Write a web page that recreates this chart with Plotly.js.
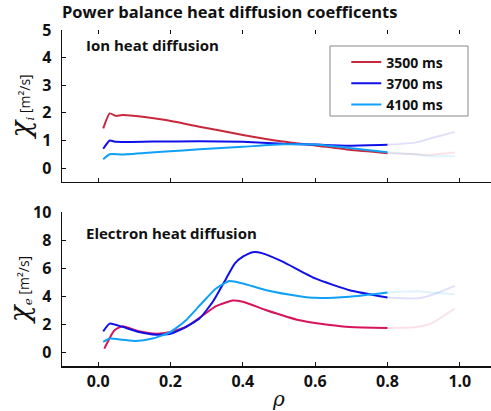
<!DOCTYPE html>
<html>
<head>
<meta charset="utf-8">
<script src="https://cdn.plot.ly/plotly-3.0.1.min.js"></script>
<style>
html,body{margin:0;padding:0;overflow:hidden;background:#fff;}
#chart{width:496px;height:411px;}
</style>
</head>
<body>
<div id="chart"></div>
<script>
// ---- data ----
const seriesNames = ["3500 ms", "3700 ms", "4100 ms"];

// Ion heat diffusion, solid part (rho <= 0.8)
const ionRho3500 = [0.014, 0.032, 0.049, 0.067, 0.123, 0.187, 0.28, 0.40, 0.51, 0.60, 0.695, 0.80];
const ionChi3500 = [1.44, 1.98, 1.89, 1.92, 1.86, 1.74, 1.50, 1.20, 0.96, 0.82, 0.66, 0.54];
const ionRho3700 = [0.014, 0.032, 0.049, 0.15, 0.28, 0.40, 0.51, 0.60, 0.70, 0.80];
const ionChi3700 = [0.70, 1.00, 0.95, 0.96, 0.97, 0.95, 0.88, 0.85, 0.81, 0.84];
const ionRho4100 = [0.014, 0.032, 0.067, 0.187, 0.28, 0.40, 0.51, 0.60, 0.70, 0.80];
const ionChi4100 = [0.32, 0.50, 0.49, 0.60, 0.68, 0.77, 0.86, 0.85, 0.72, 0.57];
// Ion, faded part (rho > 0.8)
const ionRhoFade = [0.80, 0.88, 0.92, 0.986];
const ionChiFade3500 = [0.54, 0.50, 0.48, 0.56];
const ionChiFade3700 = [0.84, 0.93, 1.08, 1.31];
const ionChiFade4100 = [0.57, 0.49, 0.43, 0.43];

// Electron heat diffusion, solid part
const eleRho3500 = [0.017, 0.045, 0.067, 0.113, 0.16, 0.20, 0.243, 0.29, 0.326, 0.372, 0.40, 0.465, 0.557, 0.60, 0.695, 0.80];
const eleChi3500 = [0.24, 1.55, 1.84, 1.48, 1.31, 1.43, 1.79, 2.63, 3.28, 3.68, 3.59, 2.99, 2.27, 2.08, 1.79, 1.72];
const eleRho3700 = [0.014, 0.032, 0.067, 0.113, 0.16, 0.20, 0.234, 0.28, 0.317, 0.354, 0.378, 0.40, 0.427, 0.455, 0.51, 0.60, 0.695, 0.80];
const eleChi3700 = [1.48, 2.03, 1.80, 1.43, 1.24, 1.31, 1.67, 2.39, 3.59, 5.26, 6.34, 6.82, 7.13, 7.05, 6.46, 5.26, 4.42, 3.90];
const eleRho4100 = [0.014, 0.032, 0.067, 0.104, 0.15, 0.20, 0.243, 0.29, 0.326, 0.363, 0.40, 0.465, 0.557, 0.60, 0.695, 0.80];
const eleChi4100 = [0.72, 0.96, 0.88, 0.79, 0.96, 1.43, 2.27, 3.59, 4.54, 5.07, 4.90, 4.42, 3.99, 3.87, 3.95, 4.25];
// Electron, faded part
const eleRhoFade = [0.80, 0.88, 0.92, 0.986];
const eleChiFade3500 = [1.72, 1.79, 2.03, 3.11];
const eleChiFade3700 = [3.90, 3.83, 4.06, 4.73];
const eleChiFade4100 = [4.25, 4.35, 4.25, 4.13];

const xTickVals = [0, 0.2, 0.4, 0.6, 0.8, 1.0];
const ionTickVals = [0, 1, 2, 3, 4, 5];
const eleTickVals = [0, 2, 4, 6, 8, 10];

// ---- styling ----
const colIon = ["#c8283c", "#1010e8", "#10a0f8"];
const colEle = ["#d6145a", "#1010e8", "#10a0f8"];
const lw = 2;
const fadeOp = 0.13;
const shp = {shape: "spline", smoothing: 0.5};

function tr(x, y, color, xa, ya, name, legend, op) {
  return {
    x: x, y: y, type: "scatter", mode: "lines", xaxis: xa, yaxis: ya,
    name: name, showlegend: legend, opacity: op === undefined ? 1 : op,
    line: Object.assign({color: color, width: lw}, shp), hoverinfo: "skip"
  };
}

const data = [
  tr(ionRhoFade, ionChiFade3500, colIon[0], "x2", "y", "", false, fadeOp),
  tr(ionRhoFade, ionChiFade3700, colIon[1], "x2", "y", "", false, fadeOp),
  tr(ionRhoFade, ionChiFade4100, colIon[2], "x2", "y", "", false, fadeOp),
  tr(eleRhoFade, eleChiFade3500, colEle[0], "x", "y2", "", false, fadeOp),
  tr(eleRhoFade, eleChiFade3700, colEle[1], "x", "y2", "", false, fadeOp),
  tr(eleRhoFade, eleChiFade4100, colEle[2], "x", "y2", "", false, fadeOp),
  tr(ionRho3500, ionChi3500, colIon[0], "x2", "y", seriesNames[0], true),
  tr(ionRho3700, ionChi3700, colIon[1], "x2", "y", seriesNames[1], true),
  tr(ionRho4100, ionChi4100, colIon[2], "x2", "y", seriesNames[2], true),
  tr(eleRho3500, eleChi3500, colEle[0], "x", "y2", "", false),
  tr(eleRho3700, eleChi3700, colEle[1], "x", "y2", "", false),
  tr(eleRho4100, eleChi4100, colEle[2], "x", "y2", "", false),
  {x: [], y: [], type: "scatter", mode: "lines", xaxis: "x3", yaxis: "y", showlegend: false, hoverinfo: "skip"}
];

const FONT = "Open Sans, Noto Sans, sans-serif";
const tickFont = {family: FONT, size: 16, color: "#111", weight: "bold"};

const xRange = [-0.1, 1.1];
const baseX = {
  range: xRange, tickvals: xTickVals, showline: true, linecolor: "#111", linewidth: 1.5,
  ticks: "inside", ticklen: 4, tickwidth: 1, tickcolor: "#111", showgrid: false, zeroline: false,
  tickfont: tickFont, fixedrange: true
};
const baseY = {
  showline: true, linecolor: "#111", linewidth: 1.5, ticks: "inside", ticklen: 4, tickwidth: 1,
  tickcolor: "#111", showgrid: false, zeroline: false, tickfont: tickFont, ticklabelstandoff: 6,
  fixedrange: true
};

const yTitleStart = "<span style='font-family:DejaVu Serif;font-size:28px;font-style:italic'>χ</span>";

const layout = {
  width: 496, height: 411,
  margin: {l: 62, r: 0, t: 30, b: 45, pad: 0},
  paper_bgcolor: "#fff", plot_bgcolor: "#fff",
  font: {family: FONT, color: "#111"},
  title: {
    text: "Power balance heat diffusion coefficents",
    font: {family: FONT, size: 16.5, weight: "bold", color: "#111"},
    x: 0, xanchor: "left", xref: "paper", y: 1 - 12/411, yanchor: "middle", yref: "container"
  },
  showlegend: true,
  legend: {
    x: 0.655, xanchor: "left", y: 0.951, yanchor: "top",
    borderwidth: 0, bgcolor: "rgba(0,0,0,0)",
    font: {family: FONT, size: 14, weight: "bold", color: "#111"},
    itemwidth: 30, tracegroupgap: 0
  },
  // legend frame (wider than Plotly's auto-sized legend box)
  shapes: [
    {type: "rect", xref: "paper", yref: "paper", x0: 0.6175, x1: 0.9355, y0: 0.744, y1: 0.9524,
     line: {color: "#888", width: 1}, fillcolor: "rgba(0,0,0,0)", layer: "above"}
  ],
  xaxis: Object.assign({}, baseX, {
    anchor: "y2", tickformat: ".1f",
    title: {text: "<i>ρ</i>", font: {family: "DejaVu Serif, serif", size: 20, color: "#111"}, standoff: 4}
  }),
  xaxis2: Object.assign({}, baseX, {anchor: "y", matches: "x", showticklabels: false}),
  xaxis3: {
    overlaying: "x2", side: "top", anchor: "y", range: xRange, tickvals: xTickVals,
    showline: false, ticks: "inside", ticklen: 4, tickwidth: 1, tickcolor: "#111",
    showticklabels: false, showgrid: false, zeroline: false, fixedrange: true
  },
  yaxis: Object.assign({}, baseY, {
    domain: [0.548, 1], anchor: "x2", range: [-0.5, 5], tickvals: ionTickVals,
    title: {
      text: yTitleStart + "<span style='font-family:DejaVu Serif;font-style:italic;font-size:17px'><sub>i</sub></span> [m²/s]",
      font: {family: FONT, size: 14, color: "#111"}, standoff: 8
    }
  }),
  yaxis2: Object.assign({}, baseY, {
    domain: [0, 0.458], anchor: "x", range: [-1, 10], tickvals: eleTickVals,
    title: {
      text: yTitleStart + "<span style='font-family:DejaVu Serif;font-style:italic;font-size:17px'><sub>e</sub></span> [m²/s]",
      font: {family: FONT, size: 14, color: "#111"}, standoff: 0
    }
  }),
  annotations: [
    {text: "Ion heat diffusion", xref: "x2 domain", yref: "y domain", x: 0.051, y: 0.90,
     xanchor: "left", yanchor: "middle", showarrow: false,
     font: {family: FONT, size: 15, weight: "bold", color: "#111"}},
    {text: "Electron heat diffusion", xref: "x domain", yref: "y2 domain", x: 0.051, y: 0.864,
     xanchor: "left", yanchor: "middle", showarrow: false,
     font: {family: FONT, size: 15, weight: "bold", color: "#111"}}
  ]
};

Plotly.newPlot("chart", data, layout, {displayModeBar: false, staticPlot: true});
</script>
</body>
</html>
